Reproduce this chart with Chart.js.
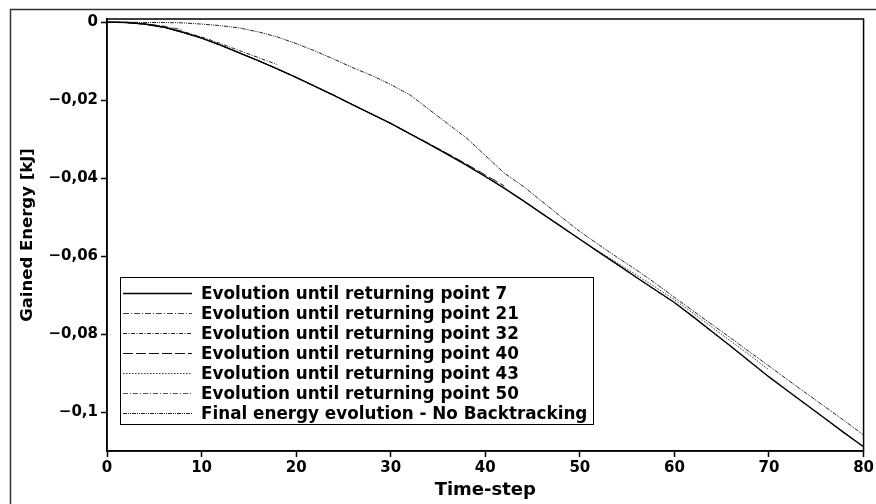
<!DOCTYPE html>
<html>
<head>
<meta charset="utf-8">
<script src="https://cdn.jsdelivr.net/npm/chart.js@4.4.0/dist/chart.umd.min.js"></script>
<style>
  html, body { margin: 0; padding: 0; background: #fff; }
  #wrap { width: 876px; height: 504px; }
</style>
</head>
<body>
<div id="wrap"><canvas id="chart" width="876" height="504"></canvas></div>
<script>
// time-steps (every 2nd step)
const steps = [0, 2, 4, 6, 8, 10, 12, 14, 16, 18, 20, 22, 24, 26, 28, 30, 32, 34, 36, 38, 40,
  42, 44, 46, 48, 50, 52, 54, 56, 58, 60, 62, 64, 66, 68, 70, 72, 74, 76, 78, 80]

const rp7 = [0, -0.0001, -0.0005, -0.0013, -0.0026, -0.0041, -0.0059, -0.0079, -0.0099, -0.0120, -0.0142,
  -0.0165, -0.0188, -0.0212, -0.0236, -0.0260, -0.0286, -0.0312, -0.0339, -0.0367, -0.0396,
  -0.0426, -0.0458, -0.0491, -0.0524, -0.0557, -0.0590, -0.0622, -0.0655, -0.0687, -0.0719,
  -0.0756, -0.0794, -0.0832, -0.0871, -0.0910, -0.0946, -0.0982, -0.1018, -0.1054, -0.1089]
const rp21 = [0, -0.0001, -0.0004, -0.0010, -0.0020]
const rp32 = [0, -0.0001, -0.0005, -0.0012, -0.0024, -0.0038, -0.0055, -0.0073, -0.0091, -0.0109]
const rp40 = [0, -0.0001, -0.0005, -0.0013, -0.0026, -0.0041, -0.0059, -0.0079, -0.0099, -0.0120, -0.0142,
  -0.0165, -0.0188, -0.0212, -0.0236, -0.0260, -0.0286, -0.0311, -0.0337, -0.0364, -0.0392, -0.0420]
const rp43 = [0, -0.0001, -0.0005, -0.0013, -0.0026, -0.0041, -0.0059, -0.0079, -0.0099, -0.0120, -0.0142,
  -0.0165, -0.0188, -0.0212, -0.0236, -0.0260, -0.0286, -0.0312, -0.0339, -0.0367, -0.0396,
  -0.0426, -0.0458, -0.0491, -0.0524, -0.0557, -0.0588, -0.0618, -0.0649, -0.0680, -0.0712,
  -0.0747, -0.0783, -0.0819, -0.0855, -0.0892]
const rp50 = [0, -0.0001, -0.0005, -0.0013, -0.0026, -0.0041, -0.0059, -0.0079, -0.0099, -0.0120, -0.0142,
  -0.0165, -0.0188, -0.0212, -0.0236, -0.0260, -0.0286, -0.0312, -0.0339, -0.0367, -0.0396,
  -0.0426, -0.0458, -0.0491, -0.0524, -0.0557, -0.0590, -0.0623, -0.0656, -0.0688, -0.0720,
  -0.0757, -0.0795, -0.0833, -0.0872, -0.0910, -0.0947, -0.0983, -0.1019, -0.1055, -0.1090]
const finalNoBacktracking = [0, 0, -0.0001, -0.0001, -0.0002, -0.0005, -0.0009, -0.0015, -0.0025, -0.0038, -0.0055,
  -0.0074, -0.0095, -0.0117, -0.0137, -0.0160, -0.0186, -0.0223, -0.0260, -0.0297, -0.0342,
  -0.0387, -0.0421, -0.0460, -0.0499, -0.0537, -0.0571, -0.0604, -0.0636, -0.0670, -0.0706,
  -0.0741, -0.0776, -0.0811, -0.0847, -0.0882, -0.0918, -0.0953, -0.0988, -0.1023, -0.1059]

const seriesNames = [
  "Evolution until returning point 7",
  "Evolution until returning point 21",
  "Evolution until returning point 32",
  "Evolution until returning point 40",
  "Evolution until returning point 43",
  "Evolution until returning point 50",
  "Final energy evolution - No Backtracking",
]
const seriesValues = [rp7, rp21, rp32, rp40, rp43, rp50, finalNoBacktracking]

const yTicks = [0, -0.02, -0.04, -0.06, -0.08, -0.1]
const yTickLabels = ["0", "\u22120,02", "\u22120,04", "\u22120,06", "\u22120,08", "\u22120,1"]
const xTicks = [0, 10, 20, 30, 40, 50, 60, 70, 80]

// line looks, one per series
const dashes = [[], [6, 2, 1, 2], [4, 1.5, 1, 1.5], [10, 3], [1.5, 1.5], [5, 2, 1, 2], [4, 1, 1, 1, 1, 1]]
const colors = ["#000", "#444", "#222", "#111", "#333", "#555", "#222"]
const widths = [1.4, 1, 1, 1, 1, 1, 1]

const FONT = "'DejaVu Sans', sans-serif"

const datasets = seriesNames.map((name, i) => ({
  label: name,
  data: steps.map((s, j) => ({ x: s, y: j < seriesValues[i].length ? seriesValues[i][j] : null })),
  borderColor: colors[i],
  borderWidth: widths[i],
  borderDash: dashes[i],
  pointRadius: 0,
  fill: false,
  tension: 0,
  spanGaps: false,
}))

// outer page frame, plot box and the legend box
const framePlugin = {
  id: "frame",
  beforeDraw(chart) {
    const ctx = chart.ctx
    ctx.save()
    ctx.fillStyle = "#fff"
    ctx.fillRect(0, 0, chart.width, chart.height)
    ctx.strokeStyle = "#333"
    ctx.lineWidth = 1.5
    ctx.beginPath()
    ctx.moveTo(10.5, chart.height)
    ctx.lineTo(10.5, 9.5)
    ctx.lineTo(chart.width, 9.5)
    ctx.stroke()
    ctx.restore()
  },
  afterDraw(chart) {
    const { ctx, chartArea: a } = chart
    ctx.save()
    ctx.strokeStyle = "#000"
    ctx.lineWidth = 1.5
    ctx.strokeRect(a.left, a.top, a.right - a.left, a.bottom - a.top)

    // legend
    const bx = 120, by = 277, bw = 473, bh = 147
    ctx.fillStyle = "#fff"
    ctx.fillRect(bx, by, bw, bh)
    ctx.lineWidth = 1
    ctx.strokeStyle = "#000"
    ctx.strokeRect(bx + 0.5, by + 0.5, bw, bh)
    ctx.font = "bold 16.8px " + FONT
    ctx.textBaseline = "middle"
    ctx.fillStyle = "#000"
    seriesNames.forEach((name, i) => {
      const y = 293.5 + i * 20
      ctx.beginPath()
      ctx.setLineDash(dashes[i])
      ctx.strokeStyle = colors[i]
      ctx.lineWidth = widths[i]
      ctx.moveTo(123, y)
      ctx.lineTo(192, y)
      ctx.stroke()
      ctx.setLineDash([])
      ctx.fillText(name, 201, y + 1)
    })
    ctx.restore()
  },
}

new Chart(document.getElementById("chart"), {
  type: "line",
  data: { datasets },
  options: {
    responsive: false,
    animation: false,
    layout: { padding: { left: 0, right: 11, top: 19, bottom: 0 } },
    plugins: { legend: { display: false }, tooltip: { enabled: false } },
    scales: {
      x: {
        type: "linear",
        min: 0,
        max: 80,
        afterFit: (s) => { s.height = 53 },
        afterBuildTicks: (s) => { s.ticks = xTicks.map((v) => ({ value: v })) },
        grid: { drawOnChartArea: false, tickLength: 6, color: "#000", tickWidth: 1.5 },
        border: { display: true, color: "#000", width: 1.5 },
        ticks: { color: "#000", padding: 2, maxRotation: 0, font: { family: FONT, size: 15, weight: "bold" } },
        title: { display: true, text: "Time-step", color: "#000", padding: { top: 0, bottom: 3 },
          font: { family: FONT, size: 18, weight: "bold" } },
      },
      y: {
        type: "linear",
        min: -0.11,
        max: 0.0008,
        afterFit: (s) => { s.width = 107 },
        afterBuildTicks: (s) => { s.ticks = yTicks.map((v) => ({ value: v })) },
        grid: { drawOnChartArea: false, tickLength: 6, color: "#000", tickWidth: 1.5 },
        border: { display: true, color: "#000", width: 1.5 },
        ticks: { color: "#000", padding: 3, callback: (v, i) => yTickLabels[i],
          font: { family: FONT, size: 15, weight: "bold" } },
        title: { display: true, text: "Gained Energy [kJ]", color: "#000", padding: { top: 18, bottom: 0 },
          font: { family: FONT, size: 16.5, weight: "bold" } },
      },
    },
  },
  plugins: [framePlugin],
})
</script>
</body>
</html>
